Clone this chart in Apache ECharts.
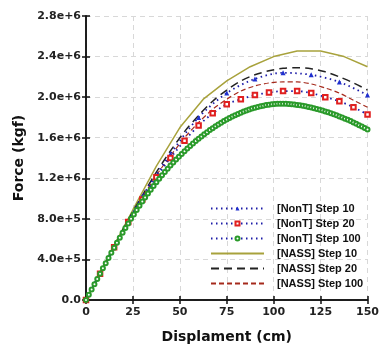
<!DOCTYPE html>
<html>
<head>
<meta charset="utf-8">
<script src="https://cdn.jsdelivr.net/npm/echarts@6/dist/echarts.min.js"></script>
<style>
  html, body { margin: 0; padding: 0; background: #fff; }
  #chart { width: 382px; height: 350px; }
</style>
</head>
<body>
<div id="chart"></div>
<script>
// force in units of 1e6 kgf, displacement in cm
const yTicks = ['0.0', '4.0e+5', '8.0e+5', '1.2e+6', '1.6e+6', '2.0e+6', '2.4e+6', '2.8e+6'];
const xTicks = [0, 25, 50, 75, 100, 125, 150];

const nonT10X = [0, 15, 30, 45, 60, 75, 90, 105, 120, 135, 150];
const nonT10Y = [0, 0.53, 1.02, 1.44, 1.80, 2.04, 2.18, 2.24, 2.22, 2.15, 2.02];

const nonT20X = [0, 7.5, 15, 22.5, 30, 37.5, 45, 52.5, 60, 67.5, 75, 82.5, 90, 97.5, 105, 112.5, 120, 127.5, 135, 142.5, 150];
const nonT20Y = [0, 0.26, 0.52, 0.77, 0.99, 1.21, 1.40, 1.57, 1.72, 1.84, 1.93, 1.98, 2.02, 2.045, 2.06, 2.06, 2.04, 2.00, 1.96, 1.90, 1.83];

// 101 points, 1.5 cm apart
const nonT100Y = [
  0, 0.052, 0.104, 0.156, 0.208, 0.26, 0.312, 0.363, 0.414, 0.465,
  0.515, 0.565, 0.614, 0.662, 0.709, 0.755, 0.800, 0.844, 0.887, 0.929,
  0.970, 1.010, 1.049, 1.087, 1.124, 1.160, 1.195, 1.229, 1.262, 1.294,
  1.325, 1.355, 1.384, 1.412, 1.440, 1.467, 1.493, 1.518, 1.543, 1.567,
  1.590, 1.612, 1.634, 1.655, 1.675, 1.694, 1.713, 1.731, 1.748, 1.764,
  1.780, 1.795, 1.809, 1.822, 1.835, 1.847, 1.858, 1.868, 1.878, 1.887,
  1.895, 1.902, 1.909, 1.915, 1.922, 1.926, 1.930, 1.932, 1.934, 1.935,
  1.935, 1.934, 1.932, 1.930, 1.927, 1.923, 1.919, 1.914, 1.909, 1.903,
  1.897, 1.890, 1.883, 1.876, 1.868, 1.859, 1.850, 1.841, 1.831, 1.821,
  1.810, 1.799, 1.788, 1.776, 1.764, 1.751, 1.738, 1.724, 1.710, 1.695,
  1.680
];

const nass10X = [0, 12.5, 25, 37.5, 50, 62.5, 75, 87.5, 100, 112.5, 125, 137.5, 150];
const nass10Y = [0, 0.45, 0.89, 1.32, 1.70, 1.98, 2.16, 2.30, 2.40, 2.455, 2.455, 2.40, 2.30];

const nass20X = nonT20X;
const nass20Y = [0, 0.265, 0.53, 0.79, 1.03, 1.26, 1.47, 1.66, 1.82, 1.96, 2.07, 2.16, 2.22, 2.26, 2.285, 2.29, 2.28, 2.25, 2.20, 2.14, 2.07];

const nass100X = nonT20X;
const nass100Y = [0, 0.26, 0.525, 0.78, 1.01, 1.23, 1.42, 1.60, 1.75, 1.88, 1.98, 2.06, 2.11, 2.14, 2.15, 2.15, 2.13, 2.09, 2.04, 1.97, 1.90];

const pairs = (xs, ys) => ys.map((v, i) => [xs[i], v * 1e6]);
const nonT100 = nonT100Y.map((v, i) => [i * 1.5, v * 1e6]);

const blue = '#1c1ca8';
const font = 'DejaVu Sans';

const chart = echarts.init(document.getElementById('chart'));
const frameAxis = {
  min: 0,
  axisLine: { show: true, lineStyle: { color: '#111', width: 1.5 } },
  axisTick: { show: true, inside: true, length: 4, lineStyle: { color: '#111', width: 1.5 } },
  axisLabel: { show: false },
  splitLine: { show: false }
};
const noMark = { opacity: 0 };
const option = {
  animation: false,
  grid: { left: 86, right: 11, top: 16, bottom: 50 },
  legend: {
    orient: 'vertical',
    left: 205,
    top: 198,
    itemWidth: 53,
    itemHeight: 5,
    itemGap: 4,
    textStyle: { fontFamily: 'Liberation Sans', fontWeight: 'bold', fontSize: 11, color: '#111', padding: [0, 0, 0, 8] },
    data: [
      '[NonT] Step 10', '[NonT] Step 20', '[NonT] Step 100',
      { name: '[NASS] Step 10', itemStyle: noMark },
      { name: '[NASS] Step 20', itemStyle: noMark },
      { name: '[NASS] Step 100', itemStyle: noMark }
    ]
  },
  xAxis: [
    {
      type: 'value', min: 0, max: 150, interval: 25,
      name: 'Displament (cm)', nameLocation: 'middle', nameGap: 30,
      nameTextStyle: { fontFamily: font, fontWeight: 'bold', fontSize: 14, color: '#111' },
      axisLine: { lineStyle: { color: '#111', width: 1.5 } },
      axisTick: { inside: true, length: 4, lineStyle: { color: '#111', width: 1.5 } },
      axisLabel: { margin: 7, fontFamily: font, fontWeight: 'bold', fontSize: 11, color: '#222',
        formatter: v => xTicks.includes(v) ? String(v) : '' },
      splitLine: { lineStyle: { color: '#d8d8d8', type: [5, 4] } }
    },
    Object.assign({ type: 'value', position: 'top', max: 150, interval: 25 }, frameAxis)
  ],
  yAxis: [
    {
      type: 'value', min: 0, max: 2.8e6, interval: 4e5,
      name: 'Force (kgf)', nameLocation: 'middle', nameGap: 60,
      nameTextStyle: { fontFamily: font, fontWeight: 'bold', fontSize: 14, color: '#111' },
      axisLine: { show: true, lineStyle: { color: '#111', width: 1.5 } },
      axisTick: { show: true, inside: true, length: 4, lineStyle: { color: '#111', width: 1.5 } },
      axisLabel: { margin: 5, fontFamily: font, fontWeight: 'bold', fontSize: 11, color: '#222',
        formatter: v => yTicks[Math.round(v / 4e5)] },
      splitLine: { lineStyle: { color: '#d8d8d8', type: [5, 4] } }
    },
    Object.assign({ type: 'value', position: 'right', max: 2.8e6, interval: 4e5 }, frameAxis)
  ],
  series: [
    {
      name: '[NASS] Step 10', type: 'line', data: pairs(nass10X, nass10Y), symbol: 'none',
      lineStyle: { color: '#a8a23c', width: 1.5 }, itemStyle: { color: '#a8a23c' }, z: 2
    },
    {
      name: '[NASS] Step 20', type: 'line', data: pairs(nass20X, nass20Y), symbol: 'none', smooth: 0.3,
      lineStyle: { color: '#222', width: 1.5, type: [8, 5] }, itemStyle: { color: '#222' }, z: 2
    },
    {
      name: '[NASS] Step 100', type: 'line', data: pairs(nass100X, nass100Y), symbol: 'none', smooth: 0.3,
      lineStyle: { color: '#a52a1c', width: 1.2, type: [5, 3] }, itemStyle: { color: '#a52a1c' }, z: 2
    },
    {
      name: '[NonT] Step 10', type: 'line', data: pairs(nonT10X, nonT10Y), symbol: 'triangle', symbolSize: 5,
      smooth: 0.3,
      lineStyle: { color: blue, width: 1.8, type: [1.5, 3.5] }, itemStyle: { color: '#2030d0' }, z: 3
    },
    {
      name: '[NonT] Step 20', type: 'line', data: pairs(nonT20X, nonT20Y), symbol: 'emptyRect', symbolSize: 4.5,
      smooth: 0.3,
      lineStyle: { color: blue, width: 1.8, type: [1.5, 3.5] }, itemStyle: { color: '#e02020', borderWidth: 1.2 }, z: 3
    },
    {
      name: '[NonT] Step 100', type: 'line', data: nonT100, symbol: 'emptyCircle', symbolSize: 4,
      showAllSymbol: true,
      lineStyle: { color: blue, width: 1.8, type: [1.5, 3.5] }, itemStyle: { color: '#2a9a2a', borderWidth: 1 }, z: 3
    }
  ]
};
chart.setOption(option);
</script>
</body>
</html>
